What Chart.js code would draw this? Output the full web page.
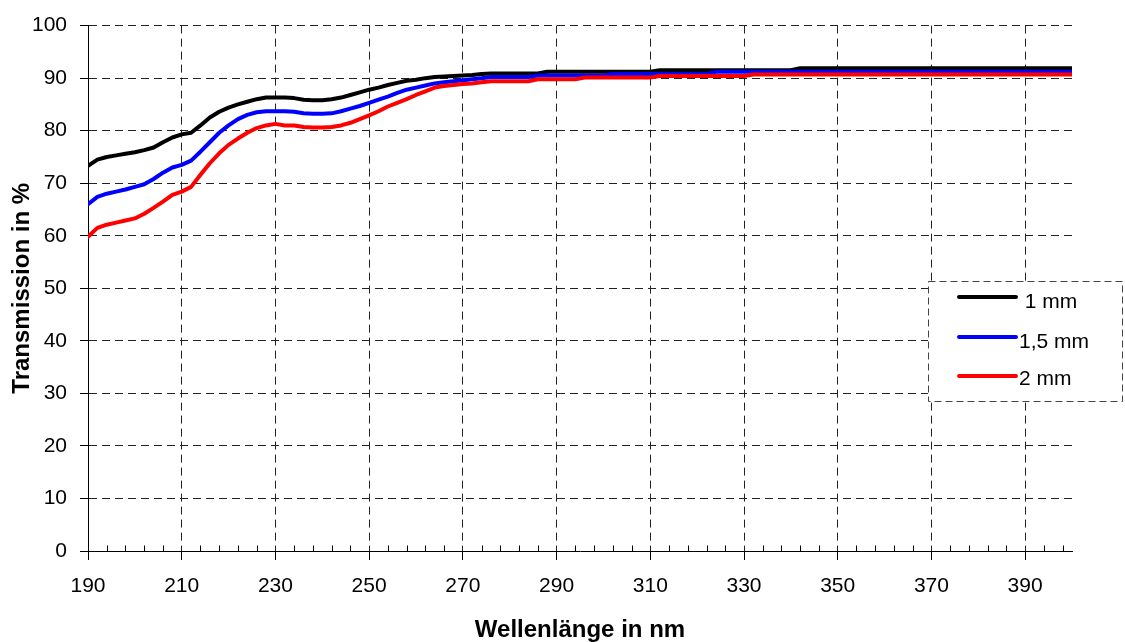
<!DOCTYPE html>
<html>
<head>
<meta charset="utf-8">
<script src="https://cdn.jsdelivr.net/npm/chart.js@4.4.1/dist/chart.umd.min.js"></script>
<style>
html,body{margin:0;padding:0;background:#ffffff;}
canvas{display:block;}
</style>
</head>
<body>
<canvas id="c" width="1125" height="642"></canvas>
<script>
// ---- data ----
const wavelengths = [
  190,192,194,196,198,200,202,204,206,208,
  210,212,214,216,218,220,222,224,226,228,
  230,232,234,236,238,240,242,244,246,248,
  250,252,254,256,258,260,262,264,266,268,
  270,272,274,276,278,280,282,284,286,288,
  290,292,294,296,298,300,
  302,306,310,312,316,320,322,324,330,332,
  336,340,342,350,360,370,380,390,400
];
const trans1mm = [
  73.3,74.5,75.0,75.3,75.6,75.9,76.3,76.8,77.8,78.7,
  79.3,79.6,81.0,82.5,83.6,84.4,85.0,85.5,86.0,86.3,
  86.3,86.3,86.2,85.9,85.8,85.8,86.0,86.3,86.8,87.3,
  87.8,88.2,88.7,89.1,89.5,89.7,90.0,90.2,90.3,90.4,
  90.5,90.6,90.8,90.9,90.9,90.9,90.9,90.9,90.9,91.2,
  91.2,91.2,91.2,91.2,91.2,91.2,
  91.2,91.2,91.2,91.5,91.5,91.5,91.5,91.5,91.5,91.5,
  91.5,91.5,91.9,91.9,91.9,91.9,91.9,91.9,91.9
];
const trans15mm = [
  66.0,67.4,68.0,68.4,68.8,69.3,69.8,70.8,72.0,73.0,
  73.5,74.3,76.0,77.8,79.6,81.0,82.2,83.0,83.5,83.7,
  83.7,83.7,83.6,83.3,83.2,83.2,83.3,83.7,84.2,84.7,
  85.3,85.9,86.5,87.2,87.8,88.2,88.6,89.0,89.2,89.4,
  89.6,89.8,90.0,90.2,90.2,90.2,90.2,90.2,90.5,90.5,
  90.5,90.5,90.5,90.5,90.5,90.5,
  90.8,90.8,90.8,90.8,90.8,90.8,90.8,91.2,91.2,91.2,
  91.2,91.2,91.2,91.2,91.2,91.2,91.2,91.2,91.2
];
const trans2mm = [
  59.8,61.5,62.1,62.5,62.9,63.3,64.2,65.3,66.5,67.8,
  68.4,69.3,71.6,73.8,75.7,77.3,78.5,79.6,80.5,81.0,
  81.3,81.0,81.0,80.7,80.6,80.6,80.7,81.0,81.5,82.2,
  82.9,83.7,84.6,85.3,86.0,86.8,87.5,88.2,88.5,88.7,
  88.9,89.0,89.2,89.4,89.4,89.4,89.4,89.4,89.8,89.8,
  89.8,89.8,89.8,90.1,90.1,90.1,
  90.1,90.1,90.1,90.4,90.4,90.4,90.4,90.4,90.4,90.7,
  90.7,90.7,90.7,90.7,90.7,90.7,90.7,90.7,90.7
];
const seriesLabels = [' 1 mm', '1,5 mm', '2 mm'];
const seriesColors = ['#000000', '#0000ff', '#ff0000'];
const xTickValues = [190,210,230,250,270,290,310,330,350,370,390];
const yTickValues = [0,10,20,30,40,50,60,70,80,90,100];
const xTitle = 'Wellenlänge in nm';
const yTitle = 'Transmission in %';

const FONT = '"Liberation Sans", Arial, Helvetica, sans-serif';
Chart.defaults.font.family = FONT;
Chart.defaults.color = '#000';

const toPoints = arr => wavelengths.map((w, i) => ({x: w, y: arr[i]}));

// minor tick marks on the x axis (every 4 nm, pointing inwards)
const minorTicks = {
  id: 'minorTicks',
  afterDatasetsDraw(chart) {
    const xs = chart.scales.x;
    const ctx = chart.ctx;
    const yb = Math.round(chart.chartArea.bottom) + 0.5;
    ctx.save();
    ctx.strokeStyle = '#000';
    ctx.lineWidth = 1;
    for (let v = xs.min; v <= xs.max; v += 4) {
      if ((v - xs.min) % 20 === 0) continue;
      const px = Math.round(xs.getPixelForValue(v)) + 0.5;
      ctx.beginPath();
      ctx.moveTo(px, yb);
      ctx.lineTo(px, yb - 6);
      ctx.stroke();
    }
    ctx.restore();
  }
};

// boxed legend with dashed frame (as in the reference)
const boxLegend = {
  id: 'boxLegend',
  afterDraw(chart) {
    const ctx = chart.ctx;
    const L = 928, T = 281, W = 194, H = 120;
    const lineY = [297, 337, 376];
    const textY = [308, 348, 385];
    ctx.save();
    ctx.fillStyle = '#fff';
    ctx.fillRect(L, T, W, H);
    ctx.setLineDash([7, 4]);
    ctx.strokeStyle = '#444';
    ctx.lineWidth = 1;
    ctx.strokeRect(L + 0.5, T + 0.5, W, H);
    ctx.setLineDash([]);
    chart.data.datasets.forEach((ds, i) => {
      ctx.strokeStyle = ds.borderColor;
      ctx.lineWidth = 4;
      ctx.lineCap = 'round';
      ctx.beginPath();
      ctx.moveTo(959, lineY[i]);
      ctx.lineTo(1016, lineY[i]);
      ctx.stroke();
      ctx.fillStyle = '#000';
      ctx.font = '21px ' + FONT;
      ctx.textBaseline = 'alphabetic';
      ctx.textAlign = 'left';
      ctx.fillText(ds.label, 1019, textY[i]);
    });
    ctx.restore();
  }
};

new Chart(document.getElementById('c'), {
  type: 'line',
  data: {
    datasets: [
      {label: seriesLabels[0], data: toPoints(trans1mm), borderColor: seriesColors[0], order: 2},
      {label: seriesLabels[1], data: toPoints(trans15mm), borderColor: seriesColors[1], order: 1},
      {label: seriesLabels[2], data: toPoints(trans2mm), borderColor: seriesColors[2], order: 0}
    ]
  },
  options: {
    responsive: false,
    animation: false,
    devicePixelRatio: 1,
    layout: {padding: {left: 0, right: 53, top: 25, bottom: 0}},
    elements: {
      line: {borderWidth: 4, tension: 0, borderJoinStyle: 'round', borderCapStyle: 'round'},
      point: {radius: 0, hoverRadius: 0}
    },
    plugins: {legend: {display: false}, tooltip: {enabled: false}},
    scales: {
      x: {
        type: 'linear',
        min: 190, max: 400,
        afterBuildTicks: axis => { axis.ticks = xTickValues.map(v => ({value: v})); },
        afterFit: s => { s.height = 91; },
        ticks: {color: '#000', font: {size: 21}, padding: 14, maxRotation: 0, autoSkip: false},
        grid: {color: '#222', lineWidth: 1, tickLength: 9, tickColor: '#000', tickBorderDash: [], drawTicks: true},
        border: {display: true, color: '#000', width: 1, dash: [8, 5]},
        title: {display: true, text: xTitle, color: '#000', font: {size: 24, weight: 'bold', lineHeight: 1}, padding: {top: 0, bottom: 0}}
      },
      y: {
        min: 0, max: 100,
        afterBuildTicks: axis => { axis.ticks = yTickValues.map(v => ({value: v})); },
        afterFit: s => { s.width = 88; },
        ticks: {color: '#000', font: {size: 21}, padding: 13},
        grid: {color: '#222', lineWidth: 1, tickLength: 8, tickColor: '#000', tickBorderDash: [], drawTicks: true},
        border: {display: true, color: '#000', width: 1, dash: [8, 5]},
        title: {display: true, text: yTitle, color: '#000', font: {size: 24, weight: 'bold', lineHeight: 1}, padding: {top: 10, bottom: 0}}
      }
    }
  },
  plugins: [minorTicks, boxLegend]
});
</script>
</body>
</html>
